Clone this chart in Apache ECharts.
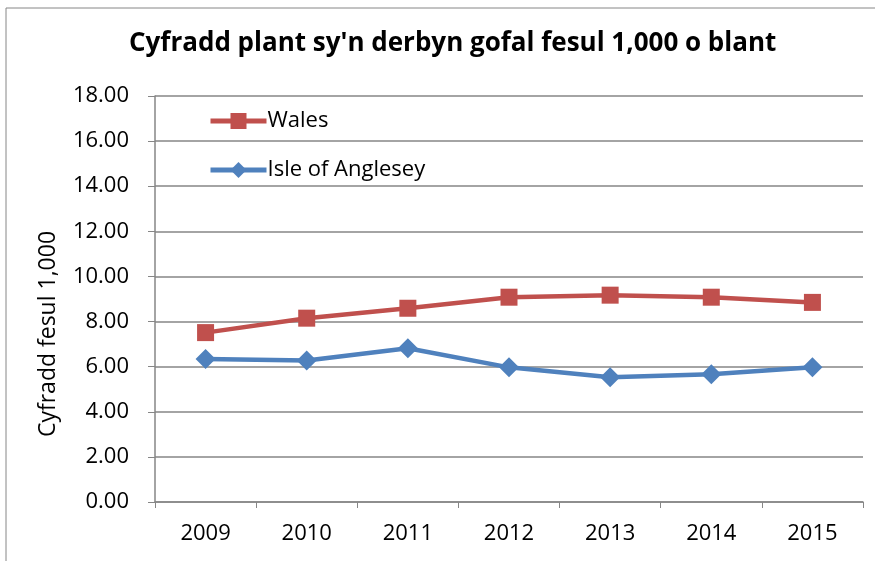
<!DOCTYPE html>
<html>
<head>
<meta charset="utf-8">
<script src="https://cdn.jsdelivr.net/npm/echarts@6/dist/echarts.min.js"></script>
<style>
	html, body { margin: 0; padding: 0; background: #fff; }
	#chart { width: 875px; height: 561px; }
</style>
</head>
<body>
<div id="chart"></div>
<script>
	// 数据
	var years = ['2009', '2010', '2011', '2012', '2013', '2014', '2015']
	var walesData = [7.51, 8.15, 8.59, 9.08, 9.17, 9.08, 8.85]
	var angleseyData = [6.34, 6.27, 6.82, 5.97, 5.53, 5.66, 5.97]

	var fontName = "'Open Sans', 'Noto Sans', sans-serif"
	var gray = '#868686'

	var chart = echarts.init(document.getElementById('chart'))
	var option = {
		animation: false,
		textStyle: { fontFamily: fontName },
		title: {
			text: "Cyfradd plant sy'n derbyn gofal fesul 1,000 o blant",
			left: 124,
			top: 26,
			textStyle: { fontSize: 26, fontWeight: 'bold', color: '#000', fontFamily: fontName }
		},
		// 图表外框 + 纵轴名称
		graphic: [{
			type: 'rect',
			shape: { x: 6, y: 8, width: 900, height: 600 },
			style: { fill: 'none', stroke: gray, lineWidth: 1 },
			silent: true
		}, {
			type: 'text',
			x: 48,
			y: 334,
			rotation: Math.PI / 2,
			style: {
				text: 'Cyfradd fesul 1,000',
				fontSize: 23,
				fontFamily: fontName,
				fill: '#000',
				align: 'center',
				verticalAlign: 'middle'
			}
		}],
		legend: {
			orient: 'vertical',
			left: 203,
			top: 105,
			itemWidth: 56,
			itemHeight: 20,
			itemGap: 27,
			lineStyle: { width: 5 },
			textStyle: { fontSize: 22, color: '#000', fontFamily: fontName, padding: [0, 0, 0, -4] },
			data: ['Wales', 'Isle of Anglesey']
		},
		grid: { left: 155, right: 12, top: 96, bottom: 59 },
		xAxis: {
			type: 'category',
			data: years,
			boundaryGap: true,
			axisLine: { lineStyle: { color: gray, width: 1.5 } },
			axisTick: { show: true, length: 6, lineStyle: { color: gray } },
			axisLabel: { fontSize: 22, color: '#000', margin: 21, fontFamily: fontName }
		},
		yAxis: {
			type: 'value',
			min: 0,
			max: 18,
			interval: 2,
			axisLine: { show: true, lineStyle: { color: gray, width: 1.5 } },
			axisTick: { show: true, length: 7, lineStyle: { color: gray } },
			axisLabel: {
				fontSize: 22, color: '#000', margin: 26, fontFamily: fontName,
				formatter: function (v) { return v.toFixed(2) }
			},
			splitLine: { lineStyle: { color: gray, width: 1.5 } }
		},
		series: [{
			name: 'Wales',
			type: 'line',
			data: walesData,
			symbol: 'rect',
			symbolSize: 17,
			color: '#C0504D',
			lineStyle: { width: 4.5, color: '#C0504D' },
			itemStyle: { color: '#C0504D' }
		}, {
			name: 'Isle of Anglesey',
			type: 'line',
			data: angleseyData,
			symbol: 'diamond',
			symbolSize: 20,
			color: '#4F81BD',
			lineStyle: { width: 4.5, color: '#4F81BD' },
			itemStyle: { color: '#4F81BD' }
		}]
	}
	chart.setOption(option)
</script>
</body>
</html>
